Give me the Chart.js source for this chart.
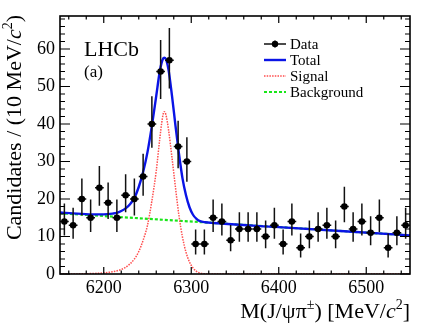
<!DOCTYPE html>
<html>
<head>
<meta charset="utf-8">
<script src="https://cdn.jsdelivr.net/npm/chart.js@4/dist/chart.umd.min.js"></script>
<style>
html,body{margin:0;padding:0;background:#fff;}
#c{display:block;}
</style>
</head>
<body>
<canvas id="c" width="432" height="327"></canvas>
<script>
// ---- data ----
const binCenters = [6155,6165,6175,6185,6195,6205,6215,6225,6235,6245,6255,6265,6275,6285,6295,6305,6315,6325,6335,6345,6355,6365,6375,6385,6395,6405,6415,6425,6435,6445,6455,6465,6475,6485,6495,6505,6515,6525,6535,6545];
const counts = [14,13,20,15,23,19,15,21,20,26,40,54,57,34,30,8,8,15,14,9,12,12,12,10,13,8,14,7,10,12,13,10,18,12,14,11,15,7,11,13];
const errUp = [4.8,4.7,5.5,4.9,5.8,5.4,4.9,5.6,5.5,6.1,7.4,8.4,8.6,6.9,6.5,3.9,3.9,4.9,4.8,4.1,4.5,4.5,4.5,4.3,4.7,3.9,4.8,3.8,4.3,4.5,4.7,4.3,5.3,4.5,4.8,4.4,4.9,3.8,4.4,4.7];
const errDown = [3.7,3.6,4.4,3.8,4.8,4.3,3.8,4.5,4.4,5.1,6.3,7.3,7.5,5.8,5.4,2.8,2.8,3.8,3.7,2.9,3.4,3.4,3.4,3.1,3.6,2.8,3.7,2.6,3.1,3.4,3.6,3.1,4.2,3.4,3.7,3.3,3.8,2.6,3.3,3.6];

const totalMass = [6150,6170,6190,6200,6210,6215,6220,6225,6230,6235,6240,6245,6250,6255,6260,6264,6267,6269,6271,6274,6278,6282,6286,6290,6294,6298,6302,6306,6310,6316,6325,6400,6475,6550];
const totalFit  = [16.4,16.1,15.9,15.9,16.1,16.3,16.8,17.5,18.6,20.3,23.2,27.2,32.5,39.5,47.5,54,57,57.7,57.3,54.5,47.5,39.5,32,25.5,21,17.8,15.8,14.7,14.1,13.8,13.6,12.5,11.4,10.3];

const signalMass = [6150,6170,6180,6190,6200,6210,6220,6225,6230,6235,6240,6245,6250,6255,6260,6264,6267,6269,6271,6274,6278,6282,6286,6290,6294,6298,6302,6306,6310,6315,6320,6550];
const signalFit  = [0,0.03,0.08,0.15,0.3,0.6,1.2,1.8,2.7,4.0,6.0,9.0,13.0,19.5,27.5,36,41.5,43.3,42.5,38.5,31,23,15.5,9.8,5.8,3.2,1.6,0.7,0.25,0.05,0,0];

const bkgMass = [6150,6550];
const bkgFit  = [16.2,10.3];

const xTickLabels = [6200,6300,6400,6500];
const yTickLabels = [0,10,20,30,40,50,60];
const legendLabels = ['Data','Total','Signal','Background'];

// ---- helpers ----
function pts(xs, ys){ return xs.map((x,i)=>({x:x,y:ys[i]})); }
const SERIF = '"Liberation Serif","DejaVu Serif",Times,serif';

function drawRuns(ctx, runs, x, y, align){
  let w = 0;
  runs.forEach(r=>{ ctx.font = r.font; r.w = ctx.measureText(r.t).width; w += r.w; });
  let cx = align==='right' ? x - w : (align==='center' ? x - w/2 : x);
  runs.forEach(r=>{ ctx.font = r.font; ctx.fillText(r.t, cx, y + (r.dy||0)); cx += r.w; });
}

const errorBars = {
  id:'errorBars',
  beforeDatasetDraw(chart, args){
    if (args.index !== 3) return;
    const ctx = chart.ctx, xs = chart.scales.x, ys = chart.scales.y;
    const a = chart.chartArea;
    ctx.save();
    ctx.beginPath(); ctx.rect(a.left, a.top, a.right-a.left, a.bottom-a.top); ctx.clip();
    ctx.strokeStyle = '#111'; ctx.lineWidth = 1.5;
    binCenters.forEach((m,i)=>{
      const px = xs.getPixelForValue(m);
      const py = ys.getPixelForValue(counts[i]);
      const pu = ys.getPixelForValue(counts[i]+errUp[i]);
      const pd = ys.getPixelForValue(counts[i]-errDown[i]);
      const pl = xs.getPixelForValue(m-5), pr = xs.getPixelForValue(m+5);
      ctx.beginPath();
      ctx.moveTo(px, pu); ctx.lineTo(px, pd);
      ctx.moveTo(pl, py); ctx.lineTo(pr, py);
      ctx.stroke();
    });
    ctx.restore();
  }
};

const frameAndText = {
  id:'frameAndText',
  afterDraw(chart){
    const ctx = chart.ctx, xs = chart.scales.x, ys = chart.scales.y, a = chart.chartArea;
    ctx.save();
    ctx.strokeStyle = '#000'; ctx.fillStyle = '#000';
    // ticks
    ctx.lineWidth = 1.2;
    ctx.beginPath();
    for (let v = 6160; v <= 6550; v += 20){
      const p = xs.getPixelForValue(v);
      const major = (v % 100 === 0);
      const len = major ? 7 : 3.5;
      ctx.moveTo(p, a.bottom); ctx.lineTo(p, a.bottom - len);
      ctx.moveTo(p, a.top); ctx.lineTo(p, a.top + len);
    }
    for (let v = 0; v <= 68; v += 2){
      const p = ys.getPixelForValue(v);
      const major = (v % 10 === 0);
      const len = major ? 10 : 5;
      ctx.moveTo(a.left, p); ctx.lineTo(a.left + len, p);
      ctx.moveTo(a.right, p); ctx.lineTo(a.right - len, p);
    }
    ctx.stroke();
    // frame
    ctx.lineWidth = 1.6;
    ctx.strokeRect(a.left, a.top, a.right-a.left, a.bottom-a.top);

    // tick labels
    ctx.font = '18px ' + SERIF;
    ctx.textBaseline = 'middle';
    ctx.textAlign = 'right';
    yTickLabels.forEach(v=>{ ctx.fillText(String(v), a.left - 5, ys.getPixelForValue(v)); });
    ctx.textAlign = 'center';
    xTickLabels.forEach(v=>{ ctx.fillText(String(v), xs.getPixelForValue(v), a.bottom + 14); });

    // x title
    ctx.textAlign = 'left'; ctx.textBaseline = 'alphabetic';
    const f = '22px ' + SERIF, fi = 'italic 22px ' + SERIF, fs = '14px ' + SERIF;
    drawRuns(ctx, [
      {t:'M(J/\u03C8\u03C0', font:f},
      {t:'\u00B1', font:fs, dy:-9},
      {t:') [MeV/', font:f},
      {t:'c', font:fi},
      {t:'2', font:fs, dy:-9},
      {t:']', font:f}
    ], a.right, 318, 'right');

    // y title (rotated)
    ctx.save();
    ctx.translate(21, a.top - 1);
    ctx.rotate(-Math.PI/2);
    drawRuns(ctx, [
      {t:'Candidates / (10 MeV/', font:f},
      {t:'c', font:fi},
      {t:'2', font:fs, dy:-9},
      {t:')', font:f}
    ], 0, 0, 'right');
    ctx.restore();

    // LHCb label
    ctx.font = '22px ' + SERIF;
    ctx.fillText('LHCb', 84, 56);
    ctx.font = '17px ' + SERIF;
    ctx.fillText('(a)', 84, 77);

    // legend
    const lx0 = 264, lx1 = 286, tx = 290;
    const rows = [44, 60, 76, 92];
    ctx.font = '15px ' + SERIF;
    ctx.textBaseline = 'middle';
    // Data
    ctx.strokeStyle = '#111'; ctx.lineWidth = 1.4; ctx.setLineDash([]);
    ctx.beginPath(); ctx.moveTo(lx0, rows[0]); ctx.lineTo(lx1, rows[0]);
    ctx.moveTo((lx0+lx1)/2, rows[0]-3.5); ctx.lineTo((lx0+lx1)/2, rows[0]+3.5); ctx.stroke();
    ctx.beginPath(); ctx.arc((lx0+lx1)/2, rows[0], 3.2, 0, Math.PI*2); ctx.fillStyle='#000'; ctx.fill();
    // Total
    ctx.strokeStyle = '#0a14e6'; ctx.lineWidth = 2.4;
    ctx.beginPath(); ctx.moveTo(lx0, rows[1]); ctx.lineTo(lx1, rows[1]); ctx.stroke();
    // Signal
    ctx.strokeStyle = '#ff4d4d'; ctx.lineWidth = 1.5; ctx.setLineDash([1.5,1.2]);
    ctx.beginPath(); ctx.moveTo(lx0, rows[2]); ctx.lineTo(lx1, rows[2]); ctx.stroke();
    // Background
    ctx.strokeStyle = '#19e619'; ctx.lineWidth = 2.2; ctx.setLineDash([3,2]);
    ctx.beginPath(); ctx.moveTo(lx0, rows[3]); ctx.lineTo(lx1, rows[3]); ctx.stroke();
    ctx.setLineDash([]);
    ctx.fillStyle = '#000';
    legendLabels.forEach((l,i)=>{ ctx.fillText(l, tx, rows[i]+1); });
    ctx.restore();
  }
};

new Chart(document.getElementById('c'), {
  type: 'scatter',
  data: {
    datasets: [
      { label:'Background', data: pts(bkgMass,bkgFit), showLine:true, borderColor:'#19e619', borderWidth:2.2, borderDash:[3,2], pointRadius:0, order:4 },
      { label:'Signal', data: pts(signalMass,signalFit), showLine:true, borderColor:'#ff4d4d', borderWidth:1.5, borderDash:[1.5,1.2], pointRadius:0, cubicInterpolationMode:'monotone', order:3 },
      { label:'Total', data: pts(totalMass,totalFit), showLine:true, borderColor:'#0a14e6', borderWidth:2.4, pointRadius:0, cubicInterpolationMode:'monotone', order:2 },
      { label:'Data', data: pts(binCenters,counts), showLine:false, pointRadius:3.3, pointBackgroundColor:'#000', pointBorderColor:'#000', pointBorderWidth:0, order:1 }
    ]
  },
  options: {
    responsive:false, animation:false, devicePixelRatio:1,
    layout:{ padding:{ left:60, right:22, top:16, bottom:53 } },
    plugins:{ legend:{display:false}, tooltip:{enabled:false} },
    scales:{
      x:{ type:'linear', min:6150, max:6550, display:false },
      y:{ type:'linear', min:0, max:68.8, display:false }
    }
  },
  plugins:[errorBars, frameAndText]
});
</script>
</body>
</html>
